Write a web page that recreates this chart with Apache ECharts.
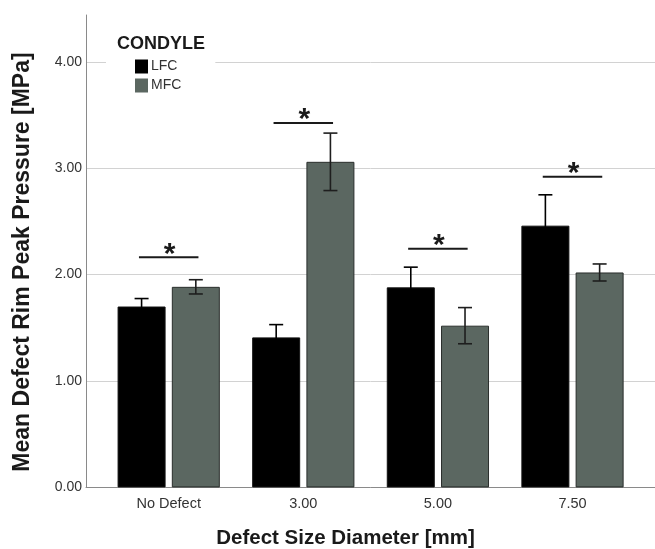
<!DOCTYPE html>
<html>
<head>
<meta charset="utf-8">
<script src="https://cdn.jsdelivr.net/npm/echarts@6/dist/echarts.min.js"></script>
<style>
  html, body { margin: 0; padding: 0; background: #fff; }
  #chart { width: 655px; height: 549px; }
</style>
</head>
<body>
<div id="chart"></div>
<script>
// Defect size groups along the x axis
const categories = ['No Defect', '3.00', '5.00', '7.50'];

// Mean rim peak pressure [MPa] per condyle
const lfcMean = [1.70, 1.41, 1.88, 2.46];
const mfcMean = [1.885, 3.06, 1.52, 2.02];

// Error bar half-lengths [MPa]
const lfcErr = [0.075, 0.12, 0.19, 0.29];
const mfcErr = [0.067, 0.27, 0.17, 0.08];

// Height of the significance bracket above each group [MPa]
const sigLevel = [2.163, 3.425, 2.243, 2.92];

const yTicks = [0, 1, 2, 3, 4];
const yMax = 4.44;

const FONT = 'Liberation Sans, Arial, sans-serif';
const BAR_W = 48;
const BAR_GAP = 0.13;          // fraction of bar width
const BAR_OFFSET = (BAR_W + BAR_W * BAR_GAP) / 2;

const chart = echarts.init(document.getElementById('chart'), null, { renderer: 'canvas' });

const errData = [];
categories.forEach((c, i) => {
  errData.push([i, lfcMean[i] - lfcErr[i], lfcMean[i] + lfcErr[i], -1]);
  errData.push([i, mfcMean[i] - mfcErr[i], mfcMean[i] + mfcErr[i], 1]);
});
const sigData = sigLevel.map((v, i) => [i, v]);

const option = {
  backgroundColor: '#fff',
  animation: false,
  title: {
    text: 'CONDYLE',
    left: 112,
    top: 30,
    textStyle: { fontFamily: FONT, fontWeight: 'bold', fontSize: 18, color: '#1a1a1a' }
  },
  legend: {
    data: ['LFC', 'MFC'],
    orient: 'vertical',
    left: 106,
    top: 54.5,
    padding: [5, 34, 4, 29],
    backgroundColor: '#fff',
    itemWidth: 13,
    itemHeight: 14,
    itemGap: 5,
    icon: 'rect',
    itemStyle: { borderWidth: 0 },
    textStyle: { fontFamily: FONT, fontSize: 14, color: '#333', padding: [0, 0, 0, -2] }
  },
  grid: [
    // frame: axis lines and gridlines span the full plot width
    { left: 86, right: 0, top: 15, bottom: 61.6 },
    // bars: narrower band so the groups sit inside the frame
    { left: 101.4, right: 15.2, top: 15, bottom: 61.6 }
  ],
  xAxis: [
    {
      gridIndex: 0, type: 'value', min: 0, max: 1,
      axisLine: { show: true, lineStyle: { color: '#8a8a8a', width: 1 } },
      axisTick: { show: false }, axisLabel: { show: false }, splitLine: { show: false }
    },
    {
      gridIndex: 1, type: 'category', data: categories,
      axisLine: { show: false }, axisTick: { show: false },
      axisLabel: { fontFamily: FONT, fontSize: 14.5, color: '#333', margin: 9 }
    }
  ],
  yAxis: [
    {
      gridIndex: 0, type: 'value', min: 0, max: yMax, interval: 1,
      axisLine: { show: true, lineStyle: { color: '#8a8a8a', width: 1 } },
      axisTick: { show: false },
      axisLabel: {
        fontFamily: FONT, fontSize: 14, color: '#333', margin: 4,
        showMaxLabel: false,
        formatter: v => (yTicks.indexOf(v) >= 0 ? v.toFixed(2) : '')
      },
      splitLine: { show: true, showMaxLine: false, lineStyle: { color: '#d2d2d2', width: 1 } }
    },
    {
      gridIndex: 1, type: 'value', min: 0, max: yMax, interval: 1, show: false,
      splitLine: { show: false }
    }
  ],
  series: [
    {
      name: 'LFC', type: 'bar', xAxisIndex: 1, yAxisIndex: 1,
      data: lfcMean, barWidth: BAR_W, barGap: (BAR_GAP * 100) + '%',
      itemStyle: { color: '#000000', borderColor: '#111', borderWidth: 1 }
    },
    {
      name: 'MFC', type: 'bar', xAxisIndex: 1, yAxisIndex: 1,
      data: mfcMean, barWidth: BAR_W, barGap: (BAR_GAP * 100) + '%',
      itemStyle: { color: '#5b6761', borderColor: '#2a2e2c', borderWidth: 1 }
    },
    {
      name: 'error', type: 'custom', xAxisIndex: 1, yAxisIndex: 1,
      data: errData, z: 5, silent: true,
      renderItem: function (params, api) {
        const lo = api.coord([api.value(0), api.value(1)]);
        const hi = api.coord([api.value(0), api.value(2)]);
        const side = api.value(3);
        const x = lo[0] + side * BAR_OFFSET;
        const cap = 7;
        const style = { stroke: side < 0 ? '#000' : '#1e1e1e', lineWidth: 1.6 };
        return {
          type: 'group',
          children: [
            { type: 'line', shape: { x1: x, y1: lo[1], x2: x, y2: hi[1] }, style: style },
            { type: 'line', shape: { x1: x - cap, y1: lo[1], x2: x + cap, y2: lo[1] }, style: style },
            { type: 'line', shape: { x1: x - cap, y1: hi[1], x2: x + cap, y2: hi[1] }, style: style }
          ]
        };
      }
    },
    {
      name: 'significance', type: 'custom', xAxisIndex: 1, yAxisIndex: 1,
      data: sigData, z: 5, silent: true,
      renderItem: function (params, api) {
        const p = api.coord([api.value(0), api.value(1)]);
        const band = api.size([1, 0])[0];
        const half = band * 0.221;
        return {
          type: 'group',
          children: [
            { type: 'line', shape: { x1: p[0] - half, y1: p[1], x2: p[0] + half, y2: p[1] },
              style: { stroke: '#1a1a1a', lineWidth: 2 } },
            { type: 'text', x: p[0] + 1, y: p[1] + 12,
              style: { text: '*', fontFamily: FONT, fontWeight: 'bold', fontSize: 30,
                       fill: '#1a1a1a', textAlign: 'center', textVerticalAlign: 'bottom' } }
          ]
        };
      }
    }
  ],
  graphic: [
    {
      type: 'text', x: 345.5, y: 538,
      style: { text: 'Defect Size Diameter [mm]', fontFamily: FONT, fontWeight: 'bold',
               fontSize: 20.5, fill: '#1a1a1a', textAlign: 'center', textVerticalAlign: 'middle' }
    },
    {
      type: 'text', x: 23, y: 262, rotation: Math.PI / 2,
      style: { text: 'Mean Defect Rim Peak Pressure [MPa]', fontFamily: FONT, fontWeight: 'bold',
               fontSize: 23, fill: '#1a1a1a', textAlign: 'center', textVerticalAlign: 'middle' }
    }
  ]
};

chart.setOption(option);
</script>
</body>
</html>
